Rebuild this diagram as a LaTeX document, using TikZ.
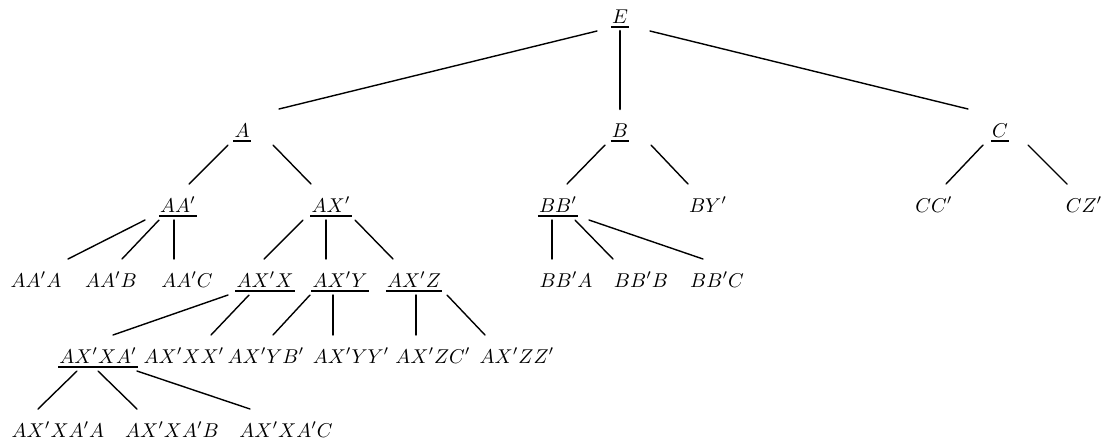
\documentclass[tikz,border=0pt]{standalone}
\usepackage{amsmath,amssymb}
\usepackage{tikz}
\usetikzlibrary{calc}
\tikzset{
  lbl/.style={anchor=base, inner sep=0pt, outer sep=0pt},  % text sits on its baseline
  edge/.style={line width=0.7pt, line cap=round},
  trunk/.style={line width=1.3pt}                          % heavy stem under E
}
% heavy underline under a math label
\newcommand{\undl}[1]{%
  \setbox0=\hbox{$#1$}%
  \leavevmode\rlap{\kern-0.6pt\rule[-2.6pt]{\dimexpr\wd0+1.2pt\relax}{1.1pt}}\box0}
\newcommand{\Leaf}[4]{\node[lbl] (#1) at (#2,#3) {$#4$};}
\newcommand{\Head}[4]{\node[lbl] (#1) at (#2,#3) {\undl{#4}};}
% #2=parent, #3=child, #4/#5 = x offsets of the two ends
\newcommand{\Link}[5][]{\draw[edge,#1] ([shift={(#4,8)}]#2.base) -- ([shift={(#5,-28)}]#3.base);}

\begin{document}
\begin{tikzpicture}[x=0.5pt, y=-0.5pt]
  \useasboundingbox (0,0) rectangle (1103,441);

  % --- labels ---
  \Head{E}{620}{23}{E}
  \Head{A}{242}{137}{A}
  \Head{B}{620}{137}{B}
  \Head{C}{1000}{137}{C}

  \Head{AAp}{178}{212}{AA'}
  \Head{AXp}{331}{212}{AX'}
  \Head{BBp}{558}{212}{BB'}
  \Leaf{BYp}{708}{212}{BY'}
  \Leaf{CCp}{934}{212}{CC'}
  \Leaf{CZp}{1084}{212}{CZ'}

  \Leaf{AApA}{36}{287}{AA'A}
  \Leaf{AApB}{111}{287}{AA'B}
  \Leaf{AApC}{187}{287}{AA'C}
  \Head{AXpX}{265}{287}{AX'X}
  \Head{AXpY}{340}{287}{AX'Y}
  \Head{AXpZ}{414}{287}{AX'Z}
  \Leaf{BBpA}{566}{287}{BB'A}
  \Leaf{BBpB}{641}{287}{BB'B}
  \Leaf{BBpC}{717}{287}{BB'C}

  \Head{AXpXAp}{98}{363}{AX'XA'}
  \Leaf{AXpXXp}{184}{363}{AX'XX'}
  \Leaf{AXpYBp}{266}{363}{AX'YB'}
  \Leaf{AXpYYp}{351}{363}{AX'YY'}
  \Leaf{AXpZCp}{433}{363}{AX'ZC'}
  \Leaf{AXpZZp}{517}{363}{AX'ZZ'}

  \Leaf{AXpXApA}{58}{437}{AX'XA'A}
  \Leaf{AXpXApB}{172}{437}{AX'XA'B}
  \Leaf{AXpXApC}{286}{437}{AX'XA'C}

  % --- branches ---
  \Link{E}{A}{-23}{37}
  \Link[trunk]{E}{B}{0}{0}
  \Link{E}{C}{30}{-32}

  \Link{A}{AAp}{-14}{11}
  \Link{A}{AXp}{31}{-20}
  \Link{B}{BBp}{-15}{9}
  \Link{B}{BYp}{31}{-20}
  \Link{C}{CCp}{-17}{12}
  \Link{C}{CZp}{28}{-17}

  \Link{AAp}{AApA}{-33}{32}
  \Link{AAp}{AApB}{-19}{11}
  \Link{AAp}{AApC}{-4}{-13}
  \Link{AXp}{AXpX}{-28}{-1}
  \Link{AXp}{AXpY}{-5}{-14}
  \Link{AXp}{AXpZ}{24}{-21}
  \Link{BBp}{BBpA}{-6}{-14}
  \Link{BBp}{BBpB}{17}{-28}
  \Link{BBp}{BBpC}{31}{-14}

  \Link{AXpX}{AXpXAp}{-37}{15}
  \Link{AXpX}{AXpXXp}{-16}{27}
  \Link{AXpY}{AXpYBp}{-30}{7}
  \Link{AXpY}{AXpYYp}{-7}{-18}
  \Link{AXpZ}{AXpZCp}{2}{-17}
  \Link{AXpZ}{AXpZZp}{33}{-32}

  \Link{AXpXAp}{AXpXApA}{-21}{-20}
  \Link{AXpXAp}{AXpXApB}{0}{-35}
  \Link{AXpXAp}{AXpXApC}{39}{-36}
\end{tikzpicture}
\end{document}
